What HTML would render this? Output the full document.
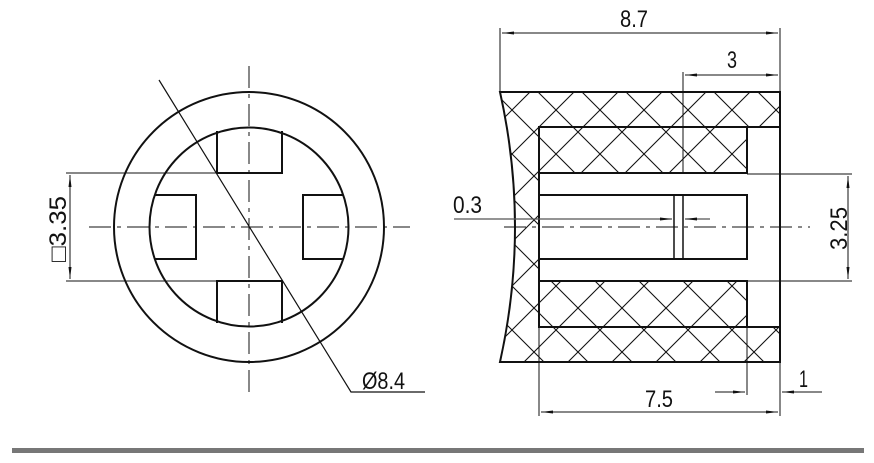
<!DOCTYPE html>
<html><head><meta charset="utf-8"><style>
html,body{margin:0;padding:0;background:#fff;width:874px;height:463px;overflow:hidden}
text{font-family:"Liberation Sans",sans-serif;font-size:24px;fill:#111}
</style></head><body>
<svg width="874" height="463" viewBox="0 0 874 463" xmlns="http://www.w3.org/2000/svg">
<defs>
<pattern id="h" patternUnits="userSpaceOnUse" width="44" height="44" x="6" y="0">
<path d="M0 0L44 44M44 0L0 44M-22 22L22 66M22 -22L66 22M22 66L66 22M-22 22L22 -22" stroke="#111" stroke-width="1.1"/>
</pattern>
<marker id="a" viewBox="0 0 12 6" refX="12" refY="3" markerWidth="12" markerHeight="6" orient="auto-start-reverse" markerUnits="userSpaceOnUse"><path d="M0 1.5L12 3L0 4.5z" fill="#111"/></marker>
</defs>
<g fill="none" stroke="#111">
<circle cx="249" cy="227" r="135" stroke-width="2"/>
<circle cx="249" cy="227" r="99.5" stroke-width="2"/>
<g stroke-width="2">
<path d="M217 131V173H282V131"/>
<path d="M217 323V281H282V323"/>
<path d="M155 195H196V259H155"/>
<path d="M343 195H303V259H343"/>
</g>
<path d="M249 66V393M89 227H410" stroke-width="1" stroke-dasharray="22,6,4,6"/>
<path d="M159 80L351 392H425" stroke-width="1.2"/>
<path d="M66 173H218M66 281H282" stroke-width="1"/>
<path d="M70 175V279" stroke-width="1" marker-start="url(#a)" marker-end="url(#a)"/>
<path d="M500 92H780V362H500Q530 227 500 92ZM747 127H780V327H747ZM539 173H747V281H539Z" fill="url(#h)" fill-rule="evenodd" stroke="none"/>
<g stroke-width="2">
<path d="M500 92H780V362H500Q530 227 500 92Z"/>
<path d="M780 127H539V327H780"/>
<path d="M539 173H747V127M539 281H747V327"/>
<path d="M539 195H747V259H539"/>
<path d="M674 195V259M683 195V259" stroke-width="1.5"/>
</g>
<path d="M504 227H810" stroke-width="1" stroke-dasharray="22,6,4,6"/>
<path d="M500 92V28M780 92V28M683 72V173M747 174H852M747 281H852M539 327V416M747 327V395M780 362V416" stroke-width="1"/>
<path d="M502 33H778" stroke-width="1" marker-start="url(#a)" marker-end="url(#a)"/>
<path d="M685 75H778" stroke-width="1" marker-start="url(#a)" marker-end="url(#a)"/>
<path d="M848 176V279" stroke-width="1" marker-start="url(#a)" marker-end="url(#a)"/>
<path d="M541 412H778" stroke-width="1" marker-start="url(#a)" marker-end="url(#a)"/>
<path d="M715 392H745" stroke-width="1" marker-end="url(#a)"/>
<path d="M822 392H782" stroke-width="1" marker-end="url(#a)"/>
<path d="M454 219H672" stroke-width="1.2" stroke="#555" marker-end="url(#a)"/>
<path d="M710 219H685" stroke-width="1.2" stroke="#555" marker-end="url(#a)"/>
</g>
<text x="620" y="27" textLength="28" lengthAdjust="spacingAndGlyphs">8.7</text>
<text x="727" y="68" textLength="10" lengthAdjust="spacingAndGlyphs">3</text>
<text x="453" y="213" textLength="29" lengthAdjust="spacingAndGlyphs">0.3</text>
<text x="645" y="407" textLength="28" lengthAdjust="spacingAndGlyphs">7.5</text>
<text x="799" y="387" textLength="9" lengthAdjust="spacingAndGlyphs">1</text>
<text x="362" y="389" textLength="43" lengthAdjust="spacingAndGlyphs">Ø8.4</text>
<text transform="translate(847 250) rotate(-90)" textLength="43" lengthAdjust="spacingAndGlyphs">3.25</text>
<text transform="translate(66 262) rotate(-90)" textLength="66" lengthAdjust="spacingAndGlyphs">□3.35</text>
<rect x="12" y="448" width="852" height="5" fill="#777"/>
</svg>
</body></html>
